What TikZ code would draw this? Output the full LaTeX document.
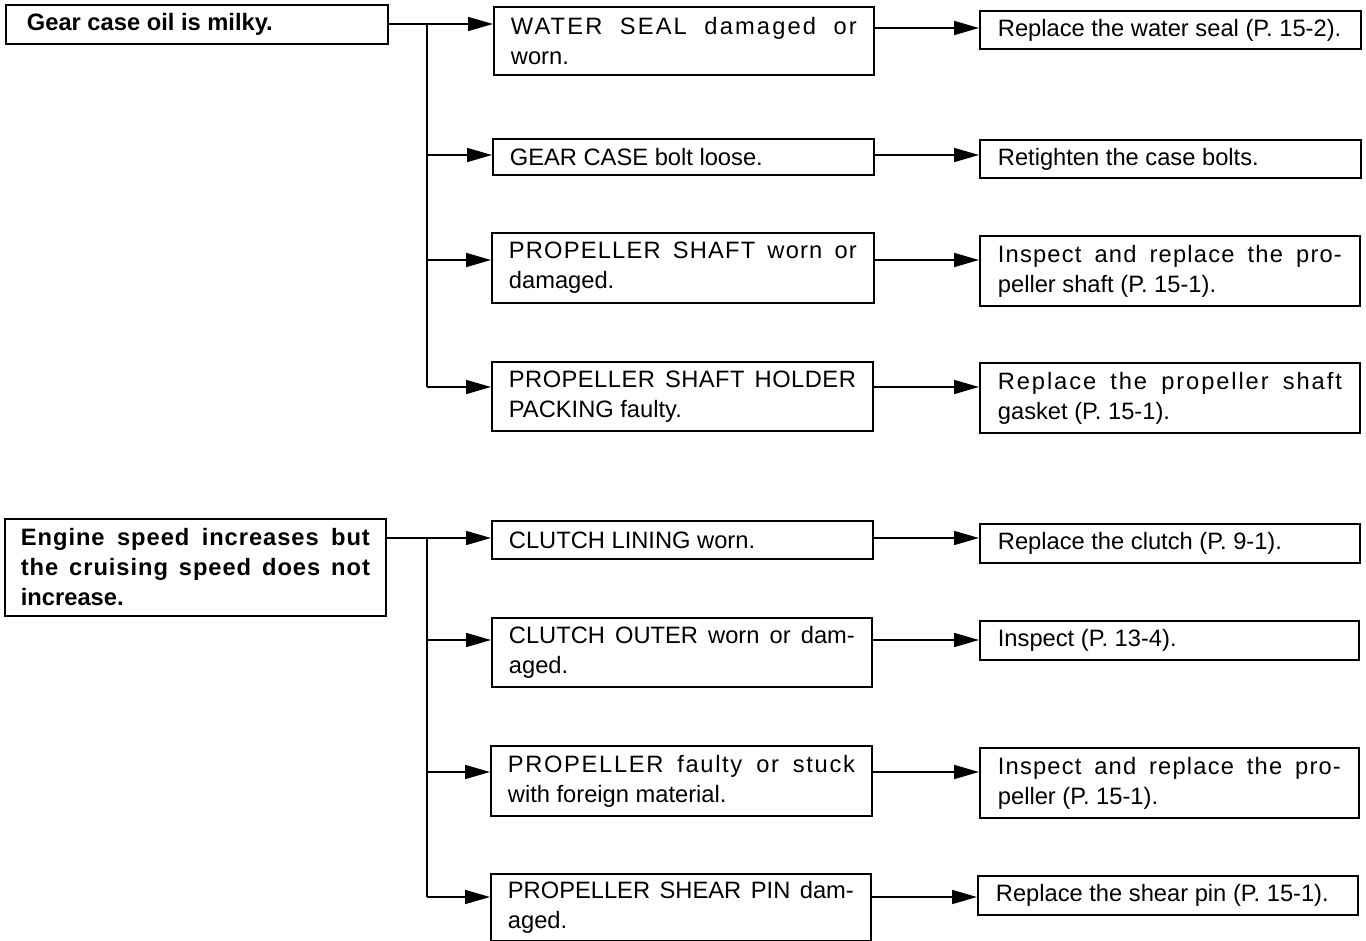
\documentclass[tikz,border=0pt]{standalone}
\usepackage{fontspec}
\setmainfont{Liberation Sans}
\usetikzlibrary{arrows.meta}
\newcommand{\lsp}[2]{{\addfontfeature{LetterSpace=#1}#2}}
\begin{document}
\begin{tikzpicture}[x=1pt,y=-1pt,
  every node/.style={font=\fontsize{23.7}{30}\selectfont\frenchspacing},
  box/.style={draw, line width=1.8pt, rectangle, anchor=north west,
    inner xsep=17pt, inner ysep=0pt, align=justify},
  rootbox/.style={box, font=\fontsize{23.7}{30}\selectfont\bfseries\frenchspacing},
  conn/.style={line width=1.7pt},
  arr/.style={conn, -{Triangle[length=25pt,width=14pt]}}]
\useasboundingbox (0,0) rectangle (1366,941);
% ---------- top group ----------
\node[rootbox, inner xsep=21pt, text width=340pt, minimum height=39pt] (root1) at (5,4) {Gear case oil is milky.};
\node[box, text width=346pt, minimum height=68pt] (C1) at (493,6) {\lsp{9}{WATER SEAL damaged or}\linebreak worn.};
\node[box, text width=347pt, minimum height=36pt] (C2) at (492,138) {GEAR CASE bolt loose.};
\node[box, text width=348pt, minimum height=70pt] (C3) at (491,232) {\lsp{5}{PROPELLER SHAFT worn or}\linebreak damaged.};
\node[box, text width=347pt, minimum height=69pt] (C4) at (491,361) {\lsp{2}{PROPELLER SHAFT HOLDER}\linebreak PACKING faulty.};
\node[box, inner xsep=18pt, text width=345pt, minimum height=38pt] (R1) at (979,10) {Replace the water seal (P.~15-2).};
\node[box, inner xsep=18pt, text width=345pt, minimum height=38pt] (R2) at (979,139) {Retighten the case bolts.};
\node[box, inner xsep=18pt, text width=344pt, minimum height=70pt] (R3) at (979,235) {\lsp{5}{Inspect and replace the pro-}\linebreak peller shaft (P.~15-1).};
\node[box, inner xsep=18pt, text width=344pt, minimum height=70pt] (R4) at (979,362) {\lsp{8}{Replace the propeller shaft}\linebreak gasket (P.~15-1).};
\coordinate (j1) at (427,24);
\coordinate (b2) at (427,155);
\coordinate (b3) at (427,260);
\coordinate (b4) at (427,387);
\coordinate (y1) at (0,28);
\draw[arr] (root1.east |- j1) -- (C1.west |- j1);
\draw[conn] (j1) -- (b4);
\draw[arr] (b2) -- (C2.west |- b2);
\draw[arr] (b3) -- (C3.west |- b3);
\draw[arr] (b4) -- (C4.west |- b4);
\draw[arr] (C1.east |- y1) -- (R1.west |- y1);
\draw[arr] (C2.east |- b2) -- (R2.west |- b2);
\draw[arr] (C3.east |- b3) -- (R3.west |- b3);
\draw[arr] (C4.east |- b4) -- (R4.west |- b4);
% ---------- bottom group ----------
\node[rootbox, inner xsep=16pt, text width=349pt, minimum height=97pt] (root2) at (4,518) {\lsp{4}{Engine speed increases but}\linebreak \lsp{4}{the cruising speed does not}\linebreak increase.};
\node[box, text width=347pt, minimum height=38pt] (D1) at (491,520) {CLUTCH LINING worn.};
\node[box, text width=346pt, minimum height=69pt] (D2) at (491,617) {CLUTCH OUTER worn or dam-\linebreak aged.};
\node[box, text width=347pt, minimum height=70pt] (D3) at (490,745) {\lsp{7}{PROPELLER faulty or stuck}\linebreak with foreign material.};
\node[box, text width=346pt, minimum height=67pt] (D4) at (490,873) {PROPELLER SHEAR PIN dam-\linebreak aged.};
\node[box, inner xsep=18pt, text width=344pt, minimum height=39pt] (S1) at (979,523) {Replace the clutch (P.~9-1).};
\node[box, inner xsep=18pt, text width=343pt, minimum height=39pt] (S2) at (979,620) {Inspect (P.~13-4).};
\node[box, inner xsep=18pt, text width=343pt, minimum height=70pt] (S3) at (979,747) {\lsp{5}{Inspect and replace the pro-}\linebreak peller (P.~15-1).};
\node[box, inner xsep=18pt, text width=344pt, minimum height=39pt] (S4) at (977,875) {Replace the shear pin (P.~15-1).};
\coordinate (k1) at (427,538);
\coordinate (e2) at (427,640);
\coordinate (e3) at (427,772);
\coordinate (e4) at (427,897);
\draw[arr] (root2.east |- k1) -- (D1.west |- k1);
\draw[conn] (k1) -- (e4);
\draw[arr] (e2) -- (D2.west |- e2);
\draw[arr] (e3) -- (D3.west |- e3);
\draw[arr] (e4) -- (D4.west |- e4);
\draw[arr] (D1.east |- k1) -- (S1.west |- k1);
\draw[arr] (D2.east |- e2) -- (S2.west |- e2);
\draw[arr] (D3.east |- e3) -- (S3.west |- e3);
\draw[arr] (D4.east |- e4) -- (S4.west |- e4);
\end{tikzpicture}
\end{document}
